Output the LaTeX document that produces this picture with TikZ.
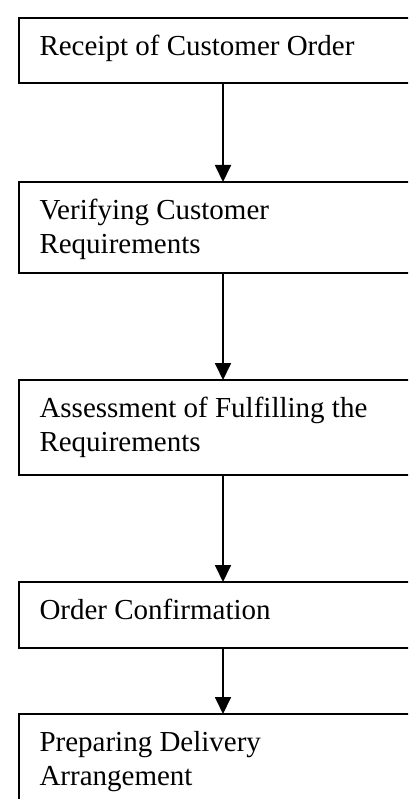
\documentclass[tikz,border=0pt]{standalone}
\usepackage{fontspec}
\setmainfont{Liberation Serif}
\usetikzlibrary{arrows.meta}

% one step of the process: a ruled box whose text hangs from the top edge
\newcommand{\stepbody}[2]{%
  \parbox[t][#1][t]{367pt}{\fontsize{29pt}{34pt}\selectfont\rule{0pt}{37.5pt}#2}}

\begin{document}
\begin{tikzpicture}[x=1pt,y=1pt,
  stepbox/.style={draw=black, line width=1.8pt, rectangle, anchor=north west,
    inner xsep=20.5pt, inner ysep=0pt, outer sep=0pt},
  flow/.style={draw=black, line width=1.8pt, -{Triangle[length=17pt,width=16pt]}}]

\useasboundingbox (0,0) rectangle (408,-799);
\fill[white] (0,0) rectangle (408,-799);
\clip (0,0) rectangle (408,-799);

\node[stepbox] (receipt) at (19,-18)  {\stepbody{65pt}{Receipt of Customer Order}};
\node[stepbox] (verify)  at (19,-182) {\stepbody{91pt}{Verifying Customer\\Requirements}};
\node[stepbox] (assess)  at (19,-380) {\stepbody{95pt}{Assessment of Fulfilling the\\Requirements}};
\node[stepbox] (confirm) at (19,-582) {\stepbody{66pt}{Order Confirmation}};
\node[stepbox] (deliver) at (19,-714) {\stepbody{130pt}{Preparing Delivery\\Arrangement}};

\draw[flow] (receipt.south) -- (verify.north);
\draw[flow] (verify.south)  -- (assess.north);
\draw[flow] (assess.south)  -- (confirm.north);
\draw[flow] (confirm.south) -- (deliver.north);
\end{tikzpicture}
\end{document}
